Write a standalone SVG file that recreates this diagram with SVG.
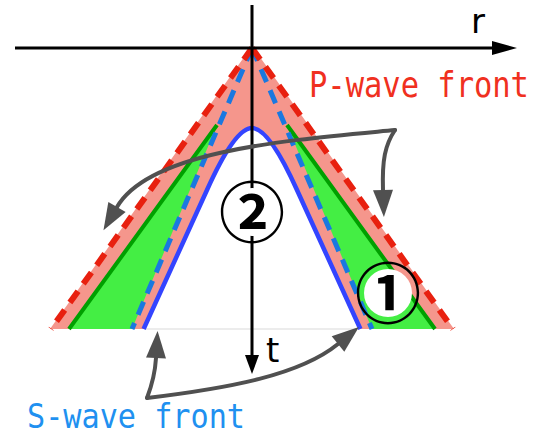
<svg xmlns="http://www.w3.org/2000/svg" width="540" height="437" viewBox="0 0 540 437">
  <style>
    .axis { stroke: #000; stroke-width: 3; fill: none; }
    .head { fill: #000; }
    .conn { stroke: #505050; stroke-width: 4; fill: none; stroke-linecap: round; }
    .pdash { stroke: #e8200f; stroke-width: 6; fill: none; stroke-dasharray: 14 9; }
    .sdash { stroke: #1a78e0; stroke-width: 5; fill: none; stroke-dasharray: 14 9; }
    .ssolid { stroke: #3344ff; stroke-width: 4.5; fill: none; stroke-linejoin: round; }
    .gline { stroke: #00a000; stroke-width: 4; fill: none; }
    .lbl { font-family: "DejaVu Sans Mono", "Liberation Mono", monospace; font-size: 35px; }
    .ax { font-family: "DejaVu Sans", "Liberation Sans", sans-serif; font-size: 34px; fill: #000; }
    .num { font-family: "Noto Sans CJK JP", "DejaVu Sans", sans-serif; font-size: 66px; font-weight: 700; fill: #000; text-anchor: middle; }
  </style>
  <defs>
    <marker id="ah" markerUnits="userSpaceOnUse" markerWidth="30" markerHeight="24" viewBox="0 -12 28 24" refX="0" refY="0" orient="auto">
      <path d="M0,-10 L27,0 L0,10 Z" fill="#505050"/>
    </marker>
  </defs>

  <g id="wavefronts">
    <path id="salmon" d="M252,46 L50,329 L143.6,329 L207,190 C225,150 240,128 252,128 C264,128 279,150 297,190 L360.4,329 L454,329 Z" fill="#f5968c"/>
    <polygon id="green-left" points="69,329 217,125 132,329" fill="#44ee44"/>
    <polygon id="green-right" points="435,329 287,125 372,329" fill="#44ee44"/>
    <line x1="145" y1="329" x2="358" y2="329" stroke="#e6e6e6" stroke-width="1.5"/>
    <path class="gline" d="M69,329 L217,125 M435,329 L287,125"/>
    <path class="ssolid" d="M143.6,329 L207,190 C225,150 240,128 252,128 C264,128 279,150 297,190 L360.4,329"/>
    <path class="sdash" d="M252,48 L132,329 M252,48 L372,329"/>
    <path class="pdash" d="M252,48 L51,329 M252,48 L453,329"/>
  </g>

  <g id="axes">
    <line class="axis" x1="15" y1="48" x2="494" y2="48"/>
    <polygon class="head" points="492,41 492,55 517,48"/>
    <line class="axis" x1="252" y1="5" x2="252" y2="357"/>
    <polygon class="head" points="245,355 259,355 252,374"/>
    <text class="ax" x="471" y="33">r</text>
    <text class="ax" x="266" y="362">t</text>
  </g>

  <g id="connectors">
    <path class="conn" d="M395,130 C290,140 150,150 117,207" marker-end="url(#ah)"/>
    <path class="conn" d="M395,130 C385,145 382,160 383,190" marker-end="url(#ah)"/>
    <path class="conn" d="M147,398 C152,385 155,375 156,358" marker-end="url(#ah)"/>
    <path class="conn" d="M147,398 C230,388 300,375 338,344" marker-end="url(#ah)"/>
  </g>

  <g id="marker-2">
    <circle cx="252" cy="212" r="24" fill="#fff"/>
    <text class="num" x="252" y="237">②</text>
  </g>
  <g id="marker-1">
    <circle cx="388" cy="293" r="24" fill="#fff"/>
    <text class="num" x="388" y="318">①</text>
  </g>

  <g id="labels">
    <text class="lbl" transform="translate(309,97) scale(0.87,1)" fill="#f03020">P-wave front</text>
    <text class="lbl" transform="translate(27,428) scale(0.888,1)" fill="#2090f0" style="font-size:34px">S-wave front</text>
  </g>
</svg>
